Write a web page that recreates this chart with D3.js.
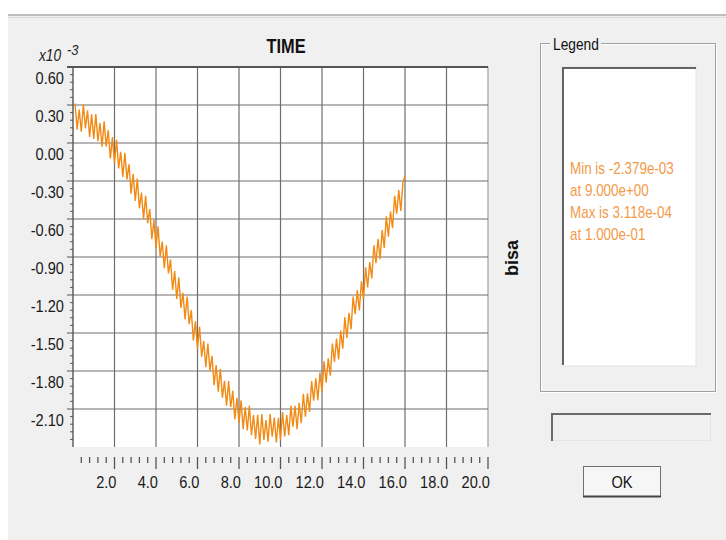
<!DOCTYPE html>
<html lang="en">
<head>
<meta charset="UTF-8" />
<title>TIME - bisa</title>
<script src="https://d3js.org/d3.v7.min.js"></script>
<style>
  body { margin: 0; background: #fff; }
  text { font-family: "Liberation Sans", Arial, sans-serif; }
</style>
</head>
<body>
<div id="chart"></div>
<script>
// bisa (x10^-3), sampled every 0.1 from t = 0.1 to t = 16.0
const bisa = [
  0.312, 0.107, 0.264, 0.089, 0.303, 0.116, 0.257, 0.047, 0.226, 0.033,
  0.229, 0.014, 0.158, -0.030, 0.172, -0.028, 0.101, -0.121, 0.046, -0.159,
  0.025, -0.201, -0.069, -0.267, -0.077, -0.287, -0.168, -0.400, -0.243, -0.457,
  -0.281, -0.516, -0.392, -0.599, -0.416, -0.633, -0.521, -0.760, -0.609, -0.828,
  -0.658, -0.898, -0.778, -0.988, -0.808, -1.029, -0.920, -1.160, -1.011, -1.232,
  -1.062, -1.302, -1.182, -1.392, -1.212, -1.431, -1.320, -1.559, -1.407, -1.624,
  -1.451, -1.688, -1.564, -1.769, -1.583, -1.797, -1.680, -1.912, -1.753, -1.963,
  -1.782, -2.010, -1.878, -2.074, -1.880, -2.084, -1.957, -2.180, -2.011, -2.212,
  -2.031, -2.259, -2.085, -2.270, -2.073, -2.306, -2.147, -2.337, -2.145, -2.379,
  -2.139, -2.344, -2.187, -2.359, -2.140, -2.319, -2.167, -2.364, -2.169, -2.343,
  -2.125, -2.317, -2.147, -2.306, -2.073, -2.240, -2.075, -2.259, -2.051, -2.212,
  -1.981, -2.160, -1.977, -2.124, -1.880, -2.034, -1.858, -2.030, -1.812, -1.963,
  -1.723, -1.892, -1.700, -1.837, -1.583, -1.729, -1.544, -1.708, -1.481, -1.624,
  -1.377, -1.539, -1.340, -1.471, -1.212, -1.352, -1.162, -1.322, -1.092, -1.232,
  -0.981, -1.140, -0.940, -1.069, -0.808, -0.948, -0.758, -0.918, -0.688, -0.828,
  -0.579, -0.740, -0.541, -0.673, -0.416, -0.559, -0.372, -0.536, -0.311, -0.257
];
const times = d3.range(1, bisa.length + 1).map(k => k / 10);

const xTicks = [2, 4, 6, 8, 10, 12, 14, 16, 18, 20];
const yTicks = [0.6, 0.3, 0, -0.3, -0.6, -0.9, -1.2, -1.5, -1.8, -2.1];
const legendLines = ["Min is -2.379e-03", "at 9.000e+00", "Max is 3.118e-04", "at 1.000e-01"];

const W = 726, H = 540;
const svg = d3.select("#chart").append("svg").attr("width", W).attr("height", H);

// narrow text, like the dialog's condensed font
const sq = (px, py, s = 0.84) => `translate(${px},${py}) scale(${s},1)`;

// dialog background
svg.append("rect").attr("width", W).attr("height", H).attr("fill", "#fff");
svg.append("rect").attr("x", 8).attr("y", 16).attr("width", W - 8).attr("height", H - 16).attr("fill", "#f0f0f0");
svg.append("line").attr("x1", 8).attr("x2", W).attr("y1", 15).attr("y2", 15).attr("stroke", "#a8a8a8").attr("stroke-width", 1.5);
svg.append("line").attr("x1", 8).attr("x2", W).attr("y1", 17.5).attr("y2", 17.5).attr("stroke", "#dcdcdc");

// plot
const x = d3.scaleLinear().domain([0, 20]).range([73, 488]);
const y = d3.scaleLinear().domain([-2.4, 0.6]).range([447, 67]);

svg.append("rect").attr("x", x(0)).attr("y", y(0.6))
  .attr("width", x(20) - x(0)).attr("height", y(-2.4) - y(0.6)).attr("fill", "#fff");

const grid = svg.append("g").attr("stroke", "#6e6e6e").attr("stroke-width", 1.2);
grid.selectAll(".vx").data(xTicks).join("line")
  .attr("x1", d => x(d)).attr("x2", d => x(d))
  .attr("y1", y(0.6)).attr("y2", y(-2.4))
  .attr("stroke", d => d === 20 ? "#a0a0a0" : null);
grid.selectAll(".hy").data(yTicks.slice(1)).join("line")
  .attr("x1", x(0)).attr("x2", x(20))
  .attr("y1", d => y(d)).attr("y2", d => y(d));

// frame: top and left darker
svg.append("line").attr("x1", x(0) - 6).attr("x2", x(20)).attr("y1", y(0.6)).attr("y2", y(0.6))
  .attr("stroke", "#555").attr("stroke-width", 2.2);
svg.append("line").attr("x1", x(0)).attr("x2", x(0)).attr("y1", y(0.6)).attr("y2", y(-2.4))
  .attr("stroke", "#555").attr("stroke-width", 1.4);

// y ticks
const yMinor = d3.range(0, 50).map(i => 0.6 - i * 0.06);
svg.append("g").selectAll("line").data(yMinor).join("line")
  .attr("x1", (d, i) => i % 5 === 0 ? x(0) - 6 : x(0) - 3).attr("x2", x(0))
  .attr("y1", d => y(d)).attr("y2", d => y(d))
  .attr("stroke", "#555").attr("stroke-width", 1);
svg.append("g").selectAll("text").data(yTicks).join("text")
  .attr("transform", d => sq(64, y(d) + 17, 0.86))
  .attr("text-anchor", "end").attr("font-size", 17).attr("fill", "#1a1a1a")
  .text(d => d3.format(".2f")(d).replace("−", "-"));

// x ticks
const xMinor = d3.range(1, 51).map(i => i * 0.4);
svg.append("g").selectAll("line").data(xMinor).join("line")
  .attr("x1", d => x(d)).attr("x2", d => x(d))
  .attr("y1", 457).attr("y2", (d, i) => (i + 1) % 5 === 0 ? 469 : 463)
  .attr("stroke", "#555").attr("stroke-width", 1.3);
svg.append("g").selectAll("text").data(xTicks).join("text")
  .attr("transform", d => sq(x(d) + 2, 488, 0.86))
  .attr("text-anchor", "end").attr("font-size", 17).attr("fill", "#1a1a1a")
  .text(d => d3.format(".1f")(d));

// series
svg.append("defs").append("filter").attr("id", "soft")
  .append("feGaussianBlur").attr("stdDeviation", 0.45);
const line = d3.line().x((d, i) => x(times[i])).y(d => y(d));
svg.append("path").datum(bisa).attr("d", line)
  .attr("fill", "none").attr("stroke", "#f28a14").attr("stroke-width", 1.4)
  .attr("filter", "url(#soft)");

// titles
svg.append("text").attr("transform", sq(286, 53, 0.78)).attr("text-anchor", "middle")
  .attr("font-size", 21).attr("font-weight", "bold").attr("fill", "#111").text("TIME");
svg.append("text").attr("transform", sq(39, 61, 0.86)).attr("font-size", 16).attr("font-style", "italic")
  .attr("fill", "#222").text("x10");
svg.append("text").attr("transform", sq(67, 55, 0.86)).attr("font-size", 15).attr("font-style", "italic")
  .attr("fill", "#222").text("-3");
svg.append("text").attr("transform", "translate(518,258) rotate(-90)").attr("text-anchor", "middle")
  .attr("font-size", 18).attr("font-weight", "bold").attr("fill", "#111").text("bisa");

// legend group box
svg.append("rect").attr("x", 541.5).attr("y", 44.5).attr("width", 175).attr("height", 348)
  .attr("fill", "none").attr("stroke", "#fff");
svg.append("rect").attr("x", 540.5).attr("y", 43.5).attr("width", 175).attr("height", 348)
  .attr("fill", "none").attr("stroke", "#a0a0a0");
svg.append("rect").attr("x", 550).attr("y", 36).attr("width", 51).attr("height", 16).attr("fill", "#f0f0f0");
svg.append("text").attr("transform", sq(553, 50, 0.86)).attr("font-size", 16).attr("fill", "#111").text("Legend");

// legend list
svg.append("rect").attr("x", 562).attr("y", 67).attr("width", 134).attr("height", 299)
  .attr("fill", "#fff").attr("stroke", "#e2e2e2");
svg.append("path").attr("d", "M563,365V68H696").attr("fill", "none").attr("stroke", "#646464").attr("stroke-width", 2);
svg.append("g").selectAll("text").data(legendLines).join("text")
  .attr("transform", (d, i) => sq(570, 174 + i * 22, 0.84))
  .attr("font-size", 16).attr("fill", "#f29a48").text(d => d);

// status box
svg.append("rect").attr("x", 551.5).attr("y", 413.5).attr("width", 159).attr("height", 27)
  .attr("fill", "#f0f0f0").attr("stroke", "#e4e4e4");
svg.append("path").attr("d", "M552,441V414H711").attr("fill", "none").attr("stroke", "#6a6a6a").attr("stroke-width", 2);

// OK button
svg.append("rect").attr("x", 583.5).attr("y", 466.5).attr("width", 77).attr("height", 30)
  .attr("fill", "#f6f6f6").attr("stroke", "#707070");
svg.append("line").attr("x1", 583).attr("x2", 661).attr("y1", 496.5).attr("y2", 496.5)
  .attr("stroke", "#444").attr("stroke-width", 2);
svg.append("text").attr("transform", sq(622, 488, 0.86)).attr("text-anchor", "middle")
  .attr("font-size", 17).attr("fill", "#111").text("OK");
</script>
</body>
</html>
